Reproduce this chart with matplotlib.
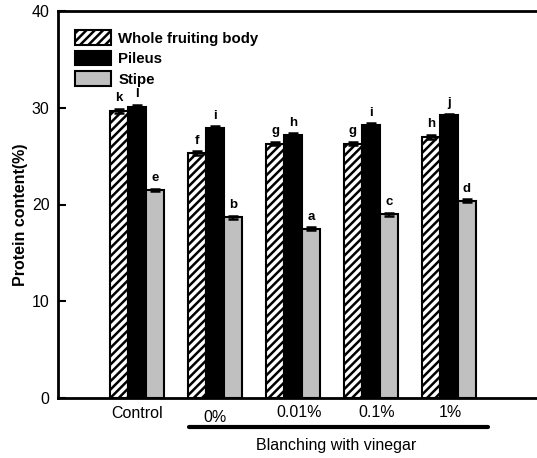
import numpy as np
import matplotlib
matplotlib.use("Agg")
import matplotlib.pyplot as plt
from matplotlib.patches import Patch

plt.rcParams['font.family'] = ['Liberation Sans', 'DejaVu Sans']
plt.rcParams['hatch.linewidth'] = 1.8

groups = ["Control", "0%", "0.01%", "0.1%", "1%"]
whole = [29.7, 25.3, 26.3, 26.3, 27.0]
pileus = [30.1, 27.9, 27.2, 28.2, 29.2]
stipe = [21.5, 18.7, 17.5, 19.0, 20.4]
whole_err = [0.2, 0.2, 0.2, 0.2, 0.2]
pileus_err = [0.2, 0.2, 0.2, 0.2, 0.2]
stipe_err = [0.15, 0.15, 0.15, 0.15, 0.15]
whole_let = ["k", "f", "g", "g", "h"]
pileus_let = ["l", "i", "h", "i", "j"]
stipe_let = ["e", "b", "a", "c", "d"]

fig = plt.figure(figsize=(5.37, 4.58), dpi=100)
ax = fig.add_axes([58 / 537, 1 - 398 / 458, 1 - 58 / 537, 387 / 458])

x = np.arange(len(groups))
w = 0.23
ekw = dict(elinewidth=1.5, capthick=1.8)
ax.bar(x - w, whole, w, color="white", edgecolor="black", hatch="////",
       linewidth=1.5, yerr=whole_err, capsize=3.5, error_kw=ekw)
ax.bar(x, pileus, w, color="black", edgecolor="black",
       linewidth=1.5, yerr=pileus_err, capsize=3.5, error_kw=ekw)
ax.bar(x + w, stipe, w, color="#c0c0c0", edgecolor="black",
       linewidth=1.5, yerr=stipe_err, capsize=3.5, error_kw=ekw)

for vals, errs, lets, off in [(whole, whole_err, whole_let, -w),
                              (pileus, pileus_err, pileus_let, 0),
                              (stipe, stipe_err, stipe_let, w)]:
    for i in range(len(groups)):
        ax.text(x[i] + off, vals[i] + errs[i] + 0.45, lets[i], ha="center",
                va="bottom", fontsize=9.5, fontweight="bold")

ax.set_xlim(-1.013, 5.13)
ax.set_ylim(0, 40)
ax.set_yticks([0, 10, 20, 30, 40])
ax.tick_params(axis="y", labelsize=11.5, width=1.5, length=6, pad=6, direction="in")
ax.set_xticks([])
for s in ["left", "top", "bottom"]:
    ax.spines[s].set_linewidth(2)
ax.spines["right"].set_visible(False)
ax.set_ylabel("Protein content(%)", fontsize=11.5, fontweight="bold")
ax.yaxis.set_label_coords(-0.063, 0.473)

label_dy = [-1.6, -2.0, -1.55, -1.55, -1.55]
label_dx = [0, 0, 0.08, 0.08, 0.02]
for i, g in enumerate(groups):
    ax.text(x[i] + label_dx[i], label_dy[i], g, ha="center", va="center",
            fontsize=11.5, clip_on=False)

ax.plot([x[1] - 0.33, x[4] + 0.5], [-3.0, -3.0], color="black", lw=3,
        clip_on=False, solid_capstyle="round")
ax.text((x[1] - 0.33 + x[4] + 0.5) / 2 - 0.03, -4.9, "Blanching with vinegar",
        ha="center", va="center", fontsize=11.5, clip_on=False)

handles = [Patch(facecolor="white", edgecolor="black", hatch="////", linewidth=1.5),
           Patch(facecolor="black", edgecolor="black", linewidth=1.5),
           Patch(facecolor="#c0c0c0", edgecolor="black", linewidth=1.5)]
ax.legend(handles, ["Whole fruiting body", "Pileus", "Stipe"], loc="upper left",
          bbox_to_anchor=(0.007, 0.985), frameon=False, handlelength=2.4,
          handleheight=1.1, handletextpad=0.5, labelspacing=0.35,
          prop=dict(size=10.8, weight="bold"))

fig.savefig("out.png", dpi=100)
